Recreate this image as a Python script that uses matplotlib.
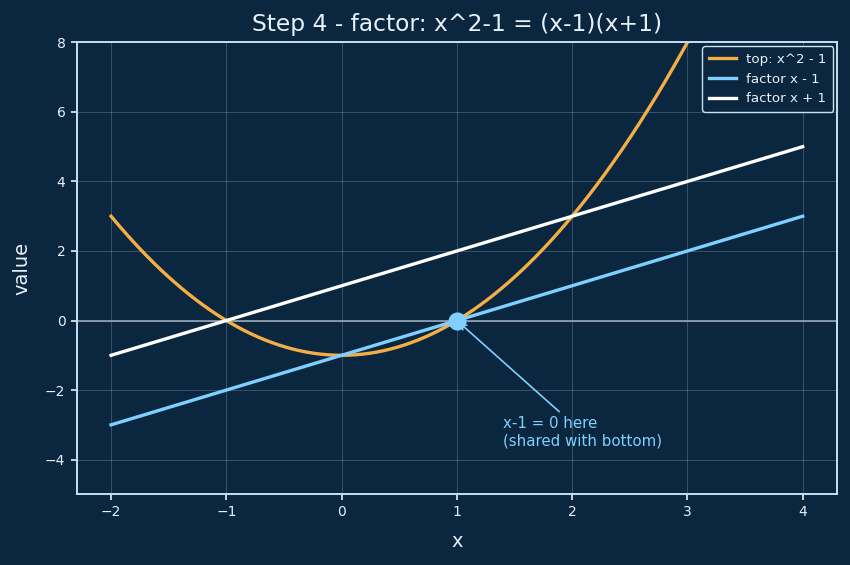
import numpy as np
import matplotlib.pyplot as plt

# function plot data: polynomial coefficients (highest power first)
x_start, x_stop = -2, 4
top_coeffs = [1, 0, -1]      # x^2 - 1
factor_a = [1, -1]           # x - 1
factor_b = [1, 1]            # x + 1
root_x = [1]
root_y = [0]

bg = '#0b2740'
fg = '#e8f0f8'

x = np.linspace(x_start, x_stop, 400)

fig, ax = plt.subplots(figsize=(8.5, 5.65), dpi=100)
fig.patch.set_facecolor(bg)
ax.set_facecolor(bg)

ax.plot(x, np.polyval(top_coeffs, x), color='#f5ae45', lw=2.4, label='top: x^2 - 1')
ax.plot(x, np.polyval(factor_a, x), color='#7fd0ff', lw=2.4, label='factor x - 1')
ax.plot(x, np.polyval(factor_b, x), color='white', lw=2.4, label='factor x + 1')
ax.axhline(0, color='#8c9cad', lw=1.3, zorder=1)
ax.plot(root_x, root_y, 'o', color='#7fd0ff', ms=12, zorder=5)

ax.annotate('x-1 = 0 here\n(shared with bottom)', xy=(root_x[0], root_y[0]),
            xytext=(1.4, -3.6), color='#7fd0ff', fontsize=10.8,
            arrowprops=dict(arrowstyle='->', color='#7fd0ff', lw=1.2))

ax.set_ylim(-5, 8)
ax.set_xlim(-2.3, 4.3)
ax.grid(True, color='#9fb5c8', alpha=0.3, lw=0.7)
ax.set_title('Step 4 - factor: x^2-1 = (x-1)(x+1)', color=fg, fontsize=16.8, pad=8)
ax.set_xlabel('x', color=fg, fontsize=14, labelpad=9)
ax.set_ylabel('value', color=fg, fontsize=14, labelpad=10)
ax.tick_params(colors=fg, labelsize=10, length=4.5, width=1.2)
for s in ax.spines.values():
    s.set_color('#c8e0f0')
    s.set_linewidth(1.4)

leg = ax.legend(loc='upper right', fontsize=9.6, facecolor=bg, edgecolor='#c8e0f0',
                labelcolor=fg, framealpha=1, borderaxespad=0.3, borderpad=0.5)

plt.subplots_adjust(left=0.09, right=0.985, top=0.925, bottom=0.125)
plt.savefig('out.png', facecolor=bg)
